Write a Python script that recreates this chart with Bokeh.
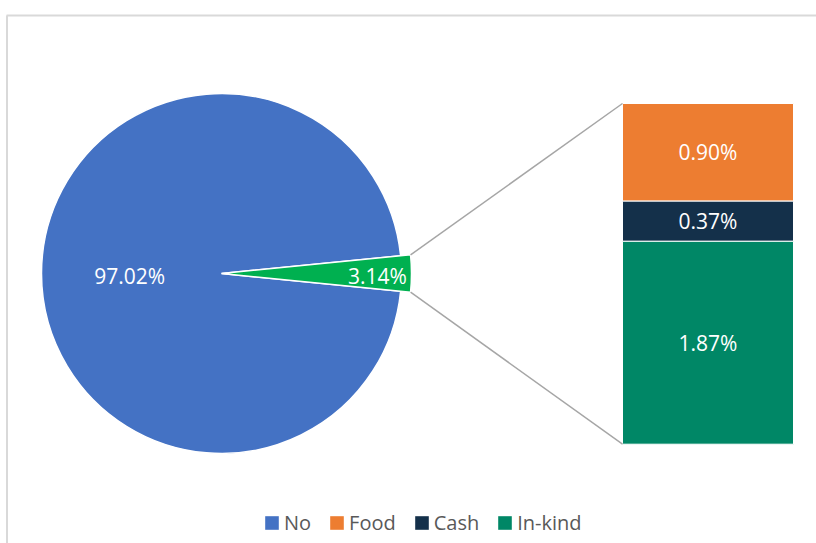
import math
from bokeh.plotting import figure
from bokeh.models import Range1d, ColumnDataSource, Legend, LegendItem
from bokeh.core.properties import value
from bokeh.embed import file_html
from bokeh.resources import INLINE

# ---- data ----
pie_categories = ["No", "Other"]
pie_values = [97.02, 3.14]
pie_labels = ["97.02%", "3.14%"]
sub_categories = ["Food", "Cash", "In-kind"]
sub_values = [0.90, 0.37, 1.87]
sub_labels = ["0.90%", "0.37%", "1.87%"]

# ---- style ----
BLUE = "#4472C4"
GREEN = "#00B050"
SUB_COLORS = ["#ED7D31", "#14304A", "#008766"]
FONT = "Open Sans"

W, H = 816, 543
p = figure(width=W, height=H, x_range=Range1d(0, W), y_range=Range1d(0, H),
           output_backend="svg", toolbar_location=None, min_border=0,
           x_axis_location=None, y_axis_location=None)
p.grid.visible = False
p.outline_line_color = None
p.background_fill_color = "white"
p.border_fill_color = "white"

# chart border (top / left visible)
p.line(x=[6.5, 6.5], y=[0, 528], line_color="#D9D9D9", line_width=2)
p.line(x=[6, W], y=[528, 528], line_color="#D9D9D9", line_width=2)

# ---- pie ----
cx, cy = 221, 270
R = 180
R_other = 190
total = sum(pie_values)
half = math.pi * pie_values[1] / total

p.wedge(x=cx, y=cy, radius=R, start_angle=half, end_angle=2 * math.pi - half,
        fill_color=BLUE, line_color="white", line_width=1.5)
p.wedge(x=cx, y=cy, radius=R_other, start_angle=-half, end_angle=half,
        fill_color=GREEN, line_color="white", line_width=1.5)

p.text(x=[cx - 0.51 * R, cx + 156], y=[cy - 2, cy - 2], text=pie_labels,
       text_font=value(FONT), text_font_size="21px", text_color="white",
       text_align="center", text_baseline="middle")

# ---- bar of pie ----
bar_x, bar_w = 707.5, 171
bar_base_px, bar_px = 99.3, 340.7
other_total = sum(sub_values)
k = other_total / bar_px
p.extra_y_ranges = {"bar": Range1d(-bar_base_px * k, (H - bar_base_px) * k)}

order = list(reversed(range(len(sub_values))))  # stack In-kind at bottom
bottoms = [0.0] * len(sub_values)
acc = 0.0
for i in order:
    bottoms[i] = acc
    acc += sub_values[i]
tops = [b + v for b, v in zip(bottoms, sub_values)]

src = ColumnDataSource(dict(cat=sub_categories, bottom=bottoms, top=tops,
                            mid=[(b + t) / 2 for b, t in zip(bottoms, tops)],
                            color=SUB_COLORS, label=sub_labels))
p.vbar(x=bar_x, width=bar_w, bottom="bottom", top="top", source=src,
       fill_color="color", line_color="white", line_width=1, y_range_name="bar")
p.text(x=bar_x, y="mid", text="label", source=src, y_range_name="bar",
       text_font=value(FONT), text_font_size="21px", text_color="white",
       text_align="center", text_baseline="middle")

# connectors
x0 = cx + R_other * math.cos(half)
y_up = cy + R_other * math.sin(half)
y_dn = cy - R_other * math.sin(half)
bar_left = bar_x - bar_w / 2
p.line(x=[x0, bar_left], y=[y_up, bar_base_px + other_total / k], line_color="#A6A6A6", line_width=1.5)
p.line(x=[x0, bar_left], y=[y_dn, bar_base_px], line_color="#A6A6A6", line_width=1.5)

# ---- legend (solid swatches, legend-only renderers) ----
legend_names = ["No"] + sub_categories
legend_colors = [BLUE] + SUB_COLORS
nan = float("nan")
items = []
for name, col in zip(legend_names, legend_colors):
    r = p.quad(left=[nan], right=[nan], bottom=[nan], top=[nan],
               fill_color=col, line_color=None)
    items.append(LegendItem(label=name, renderers=[r]))
legend = Legend(items=items, orientation="horizontal", location=(263, 7),
                glyph_width=17, glyph_height=17, label_standoff=4, spacing=17,
                padding=0, margin=0, border_line_color=None, background_fill_alpha=0,
                label_text_font=FONT, label_text_font_size="20px",
                label_text_color="#595959", label_height=14)
p.add_layout(legend)

open("out.html", "w").write(file_html(p, INLINE))
